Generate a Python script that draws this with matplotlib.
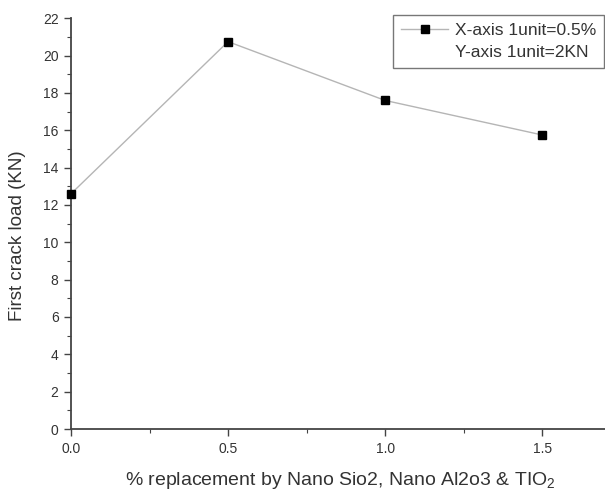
import matplotlib
matplotlib.use("Agg")
import matplotlib.pyplot as plt
from matplotlib.lines import Line2D
from matplotlib.ticker import MultipleLocator

plt.rcParams['font.family'] = ['Liberation Sans', 'DejaVu Sans']
plt.rcParams['mathtext.default'] = 'regular'

x_vals = [0.0, 0.5, 1.0, 1.5]
y_vals = [12.6, 20.75, 17.6, 15.75]
legend_labels = ["X-axis 1unit=0.5%", "Y-axis 1unit=2KN"]
x_label = "% replacement by Nano Sio2, Nano Al2o3 & TIO$_2$"
y_label = "First crack load (KN)"

txt = '#333333'
fig = plt.figure(figsize=(6.05, 4.94), dpi=100)
ax = fig.add_axes([71/605, 1-429/494, 1-71/605, (429-18.3)/494])

line, = ax.plot(x_vals, y_vals, color='#b5b5b5', lw=1.0, marker='s', ms=6,
                mfc='black', mec='black', zorder=3, clip_on=False)

ax.set_xlim(0, 1.70)
ax.set_ylim(0, 22)
ax.xaxis.set_major_locator(MultipleLocator(0.5))
ax.xaxis.set_minor_locator(MultipleLocator(0.25))
ax.yaxis.set_major_locator(MultipleLocator(2))
ax.yaxis.set_minor_locator(MultipleLocator(1))
ax.xaxis.set_major_formatter(matplotlib.ticker.FormatStrFormatter('%.1f'))

for s in ['top', 'right']:
    ax.spines[s].set_visible(False)
for s in ['left', 'bottom']:
    ax.spines[s].set_color('#444444')
    ax.spines[s].set_linewidth(1.3)

ax.tick_params(which='major', direction='out', length=5, width=1, colors='#444444',
               labelsize=10, labelcolor=txt, pad=4)
ax.tick_params(which='minor', direction='out', length=3, width=0.8, colors='#444444')

ax.set_ylabel(y_label, fontsize=13.5, color=txt)
ax.yaxis.set_label_coords(-0.084, 0.47)
ax.set_xlabel(x_label, fontsize=14, color=txt)
ax.xaxis.set_label_coords(0.505, -0.1)

blank = Line2D([], [], color='none')
leg = fig.legend([line, blank], legend_labels, loc='upper right',
                 bbox_to_anchor=(604/605, 1-15/494), bbox_transform=fig.transFigure,
                 fontsize=12.5, frameon=True, fancybox=False, borderaxespad=0,
                 handlelength=2.7, handletextpad=0.4, borderpad=0.45, labelspacing=0.4)
leg.get_frame().set_edgecolor('#555555')
leg.get_frame().set_linewidth(1.0)
for t in leg.get_texts():
    t.set_color(txt)

fig.savefig("out.png", dpi=100)
